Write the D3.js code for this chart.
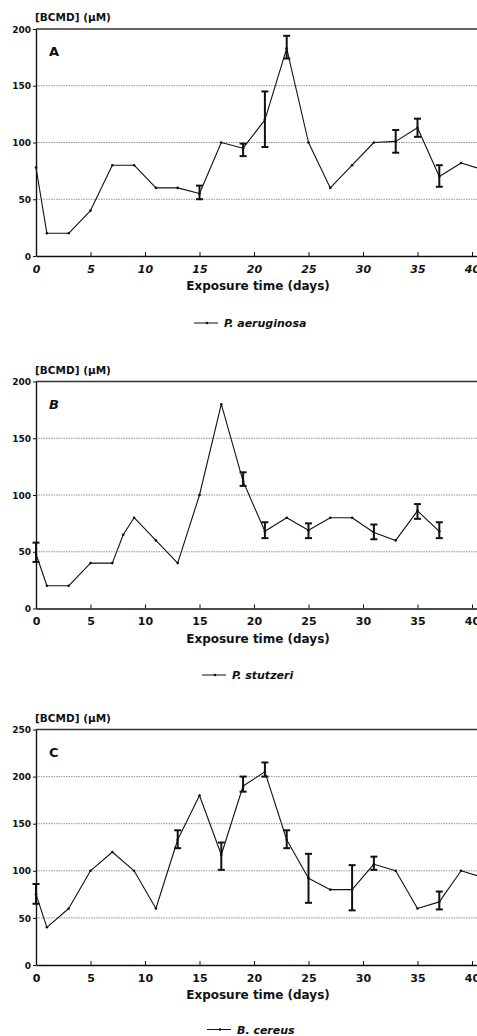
<!DOCTYPE html>
<html>
<head>
<meta charset="utf-8">
<script src="https://cdn.jsdelivr.net/npm/d3@7"></script>
<style>
  html, body { margin: 0; padding: 0; background: #fff; overflow: hidden; }
  svg { display: block; }
  text { font-family: "DejaVu Sans", sans-serif; font-weight: bold; fill: #111; }
</style>
</head>
<body>
<svg width="477" height="1036"></svg>
<script>
// panel A - P. aeruginosa
const daysA   = [0, 1, 3, 5, 7, 9, 11, 13, 15, 17, 19, 21, 23, 25, 27, 29, 31, 33, 35, 37, 39, 41];
const valuesA = [78, 20, 20, 40, 80, 80, 60, 60, 55, 100, 95, 120, 183, 100, 60, 80, 100, 101, 113, 70, 82, 76];
const errDaysA = [15, 19, 21, 23, 33, 35, 37];
const errLoA   = [50, 88, 96, 174, 91, 105, 61];
const errHiA   = [62, 99, 145, 194, 111, 121, 80];

// panel B - P. stutzeri
const daysB   = [0, 1, 3, 5, 7, 8, 9, 11, 13, 15, 17, 19, 21, 23, 25, 27, 29, 31, 33, 35, 37];
const valuesB = [48, 20, 20, 40, 40, 65, 80, 60, 40, 100, 180, 112, 68, 80, 69, 80, 80, 67, 60, 86, 68];
const errDaysB = [0, 19, 21, 25, 31, 35, 37];
const errLoB   = [41, 108, 62, 62, 61, 79, 62];
const errHiB   = [58, 120, 76, 75, 74, 92, 76];

// panel C - B. cereus
const daysC   = [0, 1, 3, 5, 7, 9, 11, 13, 15, 17, 19, 21, 23, 25, 27, 29, 31, 33, 35, 37, 39, 41];
const valuesC = [75, 40, 60, 100, 120, 100, 60, 133, 180, 117, 190, 205, 133, 92, 80, 80, 107, 100, 60, 67, 100, 93];
const errDaysC = [0, 13, 17, 19, 21, 23, 25, 29, 31, 37];
const errLoC   = [65, 124, 101, 184, 200, 124, 66, 58, 101, 59];
const errHiC   = [86, 143, 130, 200, 215, 143, 118, 106, 115, 78];

const xTicks = [0, 5, 10, 15, 20, 25, 30, 35, 40];

const panels = [
  { letter: "A", italic: false, name: "P. aeruginosa", days: daysA, values: valuesA,
    eDays: errDaysA, eLo: errLoA, eHi: errHiA, yMax: 200, top: 29, bottom: 256, legendX: 194, legendDy: 67 },
  { letter: "B", italic: true, name: "P. stutzeri", days: daysB, values: valuesB,
    eDays: errDaysB, eLo: errLoB, eHi: errHiB, yMax: 200, top: 381.5, bottom: 608.5, legendX: 202, legendDy: 66.5 },
  { letter: "C", italic: false, name: "B. cereus", days: daysC, values: valuesC,
    eDays: errDaysC, eLo: errLoC, eHi: errHiC, yMax: 250, top: 729.5, bottom: 965, legendX: 207, legendDy: 64.5 }
];

const svg = d3.select("svg");
const left = 36;
const x = d3.scaleLinear().domain([0, 42]).range([left, left + 10.9 * 42]);

panels.forEach(p => {
  const g = svg.append("g");
  const y = d3.scaleLinear().domain([0, p.yMax]).range([p.bottom, p.top]);
  const yTicks = d3.range(0, p.yMax + 1, 50);

  // dotted grid
  g.append("g")
    .selectAll("line")
    .data(yTicks.filter(t => t > 0 && t < p.yMax))
    .enter().append("line")
    .attr("x1", left).attr("x2", 477)
    .attr("y1", d => y(d)).attr("y2", d => y(d))
    .attr("stroke", "#777").attr("stroke-width", 0.8)
    .attr("stroke-dasharray", "1.5,1");

  // top frame
  g.append("line")
    .attr("x1", left).attr("x2", 477)
    .attr("y1", y(p.yMax)).attr("y2", y(p.yMax))
    .attr("stroke", "#333").attr("stroke-width", 1.4);

  // y axis
  const ya = g.append("g")
    .attr("transform", `translate(${left},0)`)
    .call(d3.axisLeft(y).tickValues(yTicks).tickSize(3).tickSizeOuter(0));
  ya.select(".domain").attr("stroke", "#111").attr("stroke-width", 1.4);
  ya.selectAll(".tick line").attr("stroke", "#111");
  ya.selectAll("text").attr("font-size", 9).attr("x", -5).attr("dy", "0.35em")
    .style("font-family", "DejaVu Sans").style("font-weight", "bold");

  // x axis
  const xa = g.append("g")
    .attr("transform", `translate(0,${p.bottom})`)
    .call(d3.axisBottom(x).tickValues(xTicks).tickSize(-4).tickSizeOuter(0));
  xa.select(".domain").attr("stroke", "#111").attr("stroke-width", 1.4);
  xa.selectAll(".tick line").attr("stroke", "#111");
  xa.selectAll("text").attr("font-size", 11).attr("y", 9).attr("dy", "0.71em")
    .style("font-family", "DejaVu Sans").style("font-weight", "bold")
    .style("font-style", p.letter === "A" ? "italic" : "normal");

  // labels
  g.append("text").attr("x", left - 1).attr("y", p.top - 8)
    .attr("font-size", 10.5).text("[BCMD] (µM)");
  g.append("text").attr("x", 49).attr("y", p.top + 27)
    .attr("font-size", 13).style("font-style", p.italic ? "italic" : "normal")
    .text(p.letter);
  g.append("text").attr("x", 258).attr("y", p.bottom + 34)
    .attr("text-anchor", "middle").attr("font-size", 12)
    .text("Exposure time (days)");

  // series line
  const pts = p.days.map((d, i) => [d, p.values[i]]);
  g.append("path")
    .datum(pts)
    .attr("fill", "none").attr("stroke", "#111").attr("stroke-width", 1.1)
    .attr("stroke-linejoin", "round")
    .attr("d", d3.line().x(d => x(d[0])).y(d => y(d[1])));
  g.append("g").selectAll("circle")
    .data(pts).enter().append("circle")
    .attr("cx", d => x(d[0])).attr("cy", d => y(d[1])).attr("r", 1.3)
    .attr("fill", "#111");

  // error bars
  const errs = p.eDays.map((d, i) => ({ d, lo: p.eLo[i], hi: p.eHi[i] }));
  const eb = g.append("g").selectAll("g").data(errs).enter().append("g")
    .attr("stroke", "#111").attr("stroke-width", 2);
  eb.append("line")
    .attr("x1", d => x(d.d)).attr("x2", d => x(d.d))
    .attr("y1", d => y(d.lo)).attr("y2", d => y(d.hi));
  eb.append("line")
    .attr("x1", d => x(d.d) - 3.5).attr("x2", d => x(d.d) + 3.5)
    .attr("y1", d => y(d.lo)).attr("y2", d => y(d.lo));
  eb.append("line")
    .attr("x1", d => x(d.d) - 3.5).attr("x2", d => x(d.d) + 3.5)
    .attr("y1", d => y(d.hi)).attr("y2", d => y(d.hi));

  // legend
  const ly = p.bottom + p.legendDy;
  g.append("line").attr("x1", p.legendX).attr("x2", p.legendX + 24)
    .attr("y1", ly).attr("y2", ly).attr("stroke", "#111").attr("stroke-width", 1);
  g.append("circle").attr("cx", p.legendX + 13).attr("cy", ly).attr("r", 1.3).attr("fill", "#111");
  g.append("text").attr("x", p.legendX + 30).attr("y", ly + 4)
    .attr("font-size", 11).style("font-style", "italic").text(p.name);
});
</script>
</body>
</html>
